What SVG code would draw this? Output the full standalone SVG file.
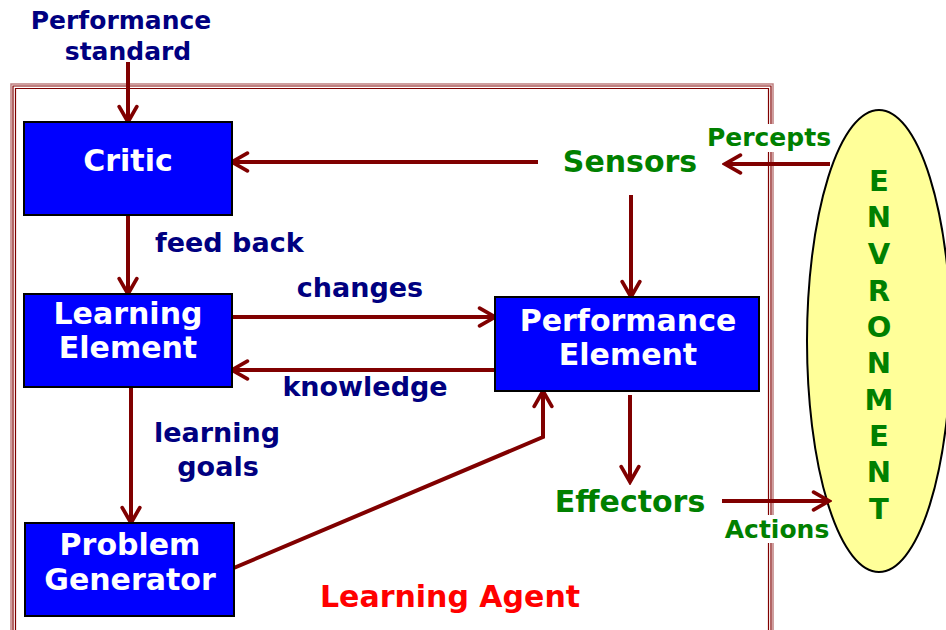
<svg xmlns="http://www.w3.org/2000/svg" width="946" height="630" viewBox="0 0 946 630">
<defs>
<marker id="arr" viewBox="0 0 20 20" refX="17" refY="10" markerWidth="5.5" markerHeight="5.5" markerUnits="strokeWidth" orient="auto">
<path d="M3,2 L17,10 L3,18" fill="none" stroke="#800000" stroke-width="3.4" stroke-linecap="round" stroke-linejoin="miter"/>
</marker>
</defs>
<style>
.box{fill:#0000ff;stroke:#000;stroke-width:2}
.bt{font-family:"DejaVu Sans",Verdana,sans-serif;font-weight:bold;fill:#fff;text-anchor:middle;font-size:30px}
.nv{font-family:"DejaVu Sans",Verdana,sans-serif;font-weight:bold;fill:#000080;font-size:27px}
.gr{font-family:"DejaVu Sans",Verdana,sans-serif;font-weight:bold;fill:#008000}
.c{fill:none;stroke:#800000;stroke-width:4;marker-end:url(#arr)}
</style>
<rect width="946" height="630" fill="#fff"/>
<g id="frame">
<path d="M11,630 V84 H773 V630" fill="none" stroke="#c08080" stroke-width="1.5"/>
<path d="M13,630 V86 H771 V630" fill="none" stroke="#800000" stroke-width="1.2"/>
<path d="M15.5,630 V88.5 H768.5 V630" fill="none" stroke="#800000" stroke-width="1.2"/>
</g>
<g id="environment">
<ellipse cx="879" cy="341" rx="72" ry="231" fill="#ffff99" stroke="#000" stroke-width="2"/>
<text class="gr" font-size="29" text-anchor="middle">
<tspan x="879" y="191">E</tspan><tspan x="879" y="227">N</tspan><tspan x="879" y="264">V</tspan><tspan x="879" y="301">R</tspan><tspan x="879" y="337">O</tspan><tspan x="879" y="373">N</tspan><tspan x="879" y="410">M</tspan><tspan x="879" y="446">E</tspan><tspan x="879" y="482">N</tspan><tspan x="879" y="519">T</tspan>
</text>
</g>
<g id="labels-bg">
<rect x="706" y="124" width="126" height="28" fill="#fff"/>
<rect x="722" y="515" width="108" height="28" fill="#fff"/>
</g>
<g id="connectors">
<line class="c" x1="128" y1="62" x2="128" y2="122"/>
<line class="c" x1="538" y1="162" x2="232" y2="162"/>
<line class="c" x1="128" y1="215" x2="128" y2="294"/>
<line class="c" x1="232" y1="317" x2="495" y2="317"/>
<line class="c" x1="495" y1="370" x2="232" y2="370"/>
<line class="c" x1="131" y1="387" x2="131" y2="523"/>
<polyline class="c" points="229,570 543,437 543,391"/>
<line class="c" x1="631" y1="195" x2="631" y2="297"/>
<line class="c" x1="630" y1="395" x2="630" y2="482"/>
<line class="c" x1="722" y1="501" x2="829" y2="501"/>
<line class="c" x1="830" y1="164" x2="725" y2="164"/>
</g>
<g id="performance-standard">
<text class="nv" style="font-size:25px" text-anchor="middle"><tspan x="121" y="29">Performance</tspan><tspan x="128" y="60">standard</tspan></text>
</g>
<g id="critic">
<rect class="box" x="24" y="122" width="208" height="93"/>
<text class="bt" x="128" y="171">Critic</text>
</g>
<g id="learning-element">
<rect class="box" x="24" y="294" width="208" height="93"/>
<text class="bt"><tspan x="128" y="324">Learning</tspan><tspan x="128" y="358">Element</tspan></text>
</g>
<g id="problem-generator">
<rect class="box" x="25" y="523" width="209" height="93"/>
<text class="bt"><tspan x="130" y="555">Problem</tspan><tspan x="130" y="590">Generator</tspan></text>
</g>
<g id="performance-element">
<rect class="box" x="495" y="297" width="264" height="94"/>
<text class="bt"><tspan x="628" y="331">Performance</tspan><tspan x="628" y="365">Element</tspan></text>
</g>
<g id="sensors"><text class="gr" font-size="30" x="630" y="172" text-anchor="middle">Sensors</text></g>
<g id="effectors"><text class="gr" font-size="30" x="630" y="512" text-anchor="middle">Effectors</text></g>
<text class="gr" font-size="25" x="769" y="146" text-anchor="middle">Percepts</text>
<text class="gr" font-size="25" x="777" y="538" text-anchor="middle">Actions</text>
<text class="nv" x="155" y="252">feed back</text>
<text class="nv" x="360" y="297" text-anchor="middle">changes</text>
<text class="nv" x="365" y="396" text-anchor="middle">knowledge</text>
<text class="nv" text-anchor="middle"><tspan x="217" y="442">learning</tspan><tspan x="218" y="476">goals</tspan></text>
<text x="450" y="607" text-anchor="middle" font-family="DejaVu Sans,Verdana,sans-serif" font-weight="bold" font-size="30" fill="#ff0000">Learning Agent</text>
</svg>
